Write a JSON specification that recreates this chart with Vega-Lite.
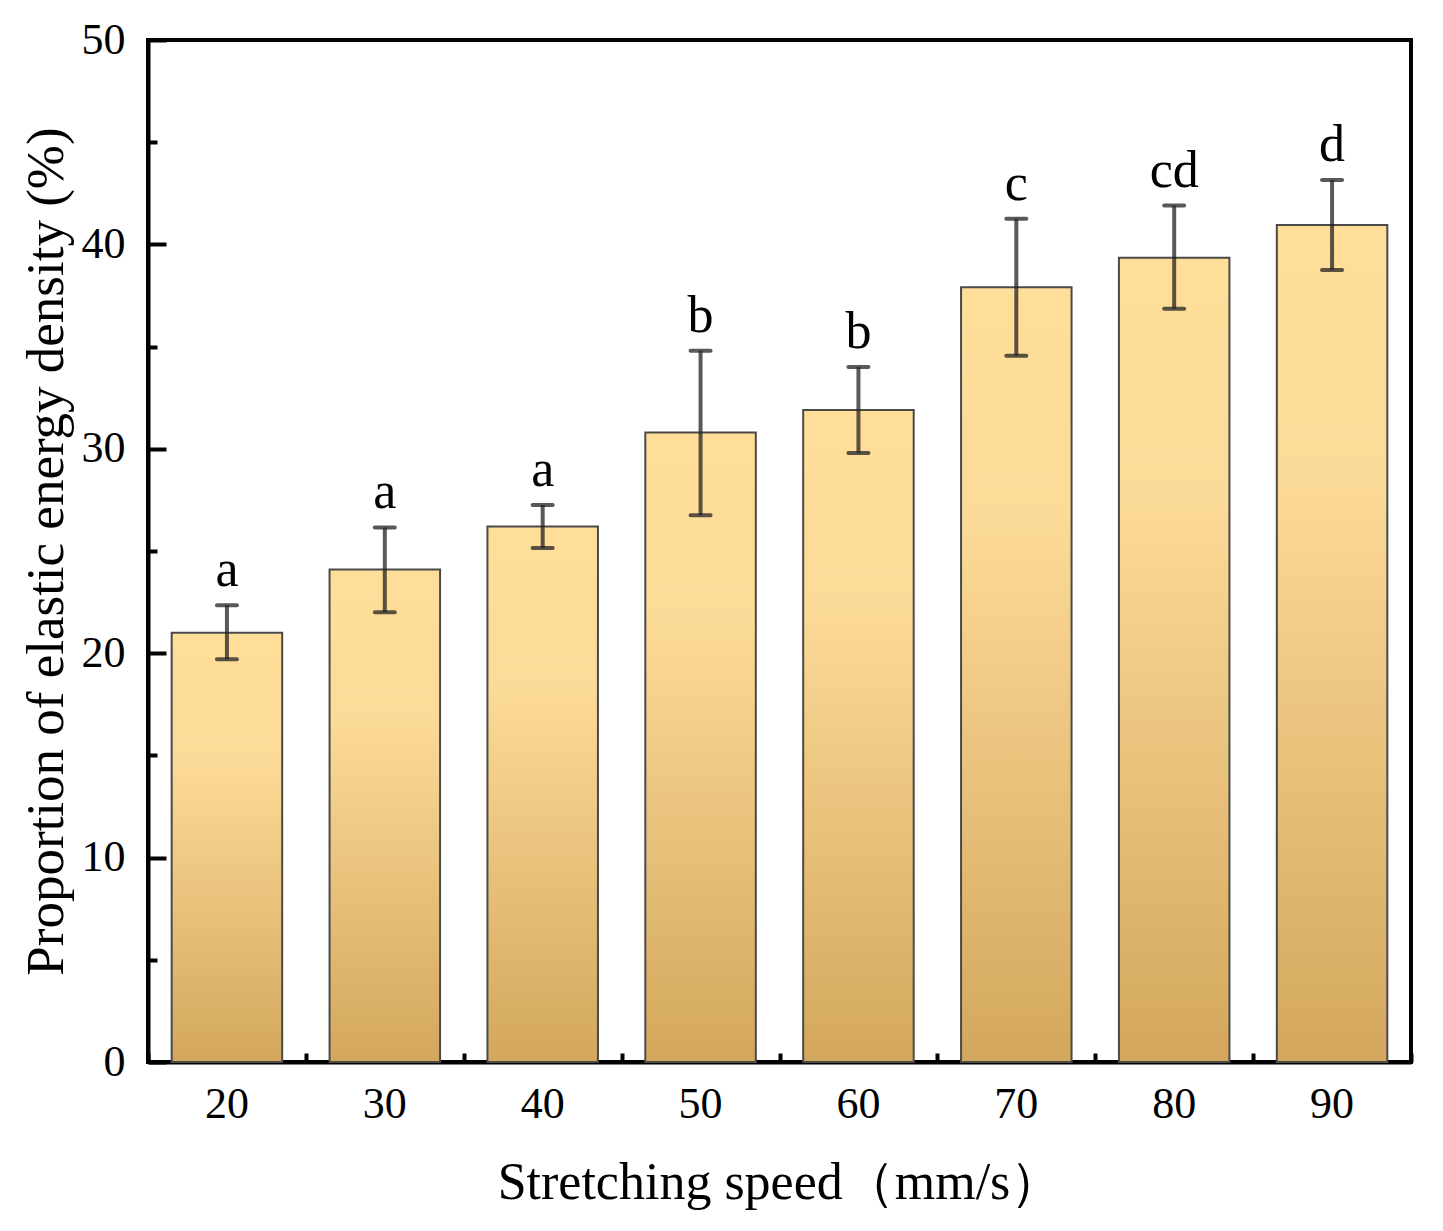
{
  "$schema": "https://vega.github.io/schema/vega-lite/v6.json",
  "width": 1263,
  "height": 1022,
  "autosize": "none",
  "padding": {"left": 148, "top": 40, "right": 32, "bottom": 169},
  "background": "white",
  "config": {
    "view": {"stroke": "black", "strokeWidth": 4},
    "axis": {
      "domainColor": "black", "domainWidth": 4,
      "tickColor": "black", "tickWidth": 4,
      "labelFont": "Liberation Serif", "titleFont": "Liberation Serif",
      "labelFontSize": 44, "titleFontSize": 52,
      "labelColor": "black", "titleColor": "black",
      "titleFontWeight": "normal", "grid": false
    }
  },
  "data": {
    "values": [
      {"speed": 20, "mean": 21.0, "lo": 19.7, "hi": 22.35, "group": "a"},
      {"speed": 30, "mean": 24.1, "lo": 22.0, "hi": 26.15, "group": "a"},
      {"speed": 40, "mean": 26.2, "lo": 25.15, "hi": 27.25, "group": "a"},
      {"speed": 50, "mean": 30.8, "lo": 26.75, "hi": 34.8, "group": "b"},
      {"speed": 60, "mean": 31.9, "lo": 29.8, "hi": 34.0, "group": "b"},
      {"speed": 70, "mean": 37.9, "lo": 34.55, "hi": 41.25, "group": "c"},
      {"speed": 80, "mean": 39.35, "lo": 36.85, "hi": 41.9, "group": "cd"},
      {"speed": 90, "mean": 40.95, "lo": 38.75, "hi": 43.15, "group": "d"}
    ]
  },
  "resolve": {"axis": {"x": "independent", "y": "independent"}},
  "layer": [
    {
      "mark": {
        "type": "bar", "width": {"band": 0.7}, "stroke": "#4a4a4a", "strokeWidth": 2,
        "fill": {
          "gradient": "linear", "x1": 0, "y1": 0, "x2": 0, "y2": 1,
          "stops": [
            {"offset": 0, "color": "#FFDE9A"},
            {"offset": 0.3, "color": "#FCDA97"},
            {"offset": 1, "color": "#D3A75D"}
          ]
        }
      },
      "encoding": {
        "x": {
          "field": "speed", "type": "ordinal",
          "scale": {"paddingInner": 0, "paddingOuter": 0},
          "axis": {"orient": "bottom", "title": "Stretching speed（mm/s）", "labelAngle": 0, "tickSize": -18, "labelPadding": 38, "titlePadding": 31}
        },
        "y": {
          "field": "mean", "type": "quantitative",
          "scale": {"domain": [0, 50]},
          "axis": {"orient": "left", "values": [0, 10, 20, 30, 40, 50], "tickSize": -18, "labelPadding": 41, "titlePadding": 8, "titleFontSize": 53, "title": "Proportion of elastic energy density (%)"}
        }
      }
    },
    {
      "mark": {"type": "rule", "color": "#222222", "opacity": 0.75, "strokeWidth": 4},
      "encoding": {
        "x": {"field": "speed", "type": "ordinal", "axis": {"orient": "bottom", "tickBand": "extent", "labels": false, "domain": false, "tickSize": -9, "title": null}},
        "y": {"field": "lo", "type": "quantitative", "axis": {"orient": "left", "values": [5, 15, 25, 35, 45], "labels": false, "domain": false, "tickSize": -9, "title": null}},
        "y2": {"field": "hi"}
      }
    },
    {
      "mark": {"type": "tick", "color": "#222222", "opacity": 0.75, "size": 24, "thickness": 4, "cornerRadius": 2},
      "encoding": {
        "x": {"field": "speed", "type": "ordinal", "axis": null},
        "y": {"field": "lo", "type": "quantitative", "axis": null}
      }
    },
    {
      "mark": {"type": "tick", "color": "#222222", "opacity": 0.75, "size": 24, "thickness": 4, "cornerRadius": 2},
      "encoding": {
        "x": {"field": "speed", "type": "ordinal", "axis": null},
        "y": {"field": "hi", "type": "quantitative", "axis": null}
      }
    },
    {
      "mark": {"type": "text", "font": "Liberation Serif", "fontSize": 52, "color": "black", "baseline": "alphabetic", "dy": -19},
      "encoding": {
        "x": {"field": "speed", "type": "ordinal", "axis": null},
        "y": {"field": "hi", "type": "quantitative", "axis": null},
        "text": {"field": "group"}
      }
    }
  ]
}
